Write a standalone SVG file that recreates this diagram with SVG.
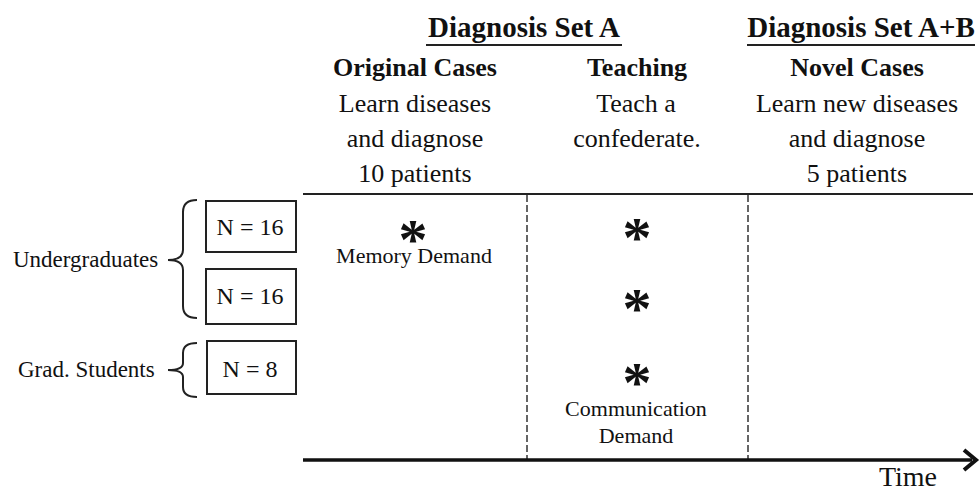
<svg xmlns="http://www.w3.org/2000/svg" width="980" height="491" viewBox="0 0 980 491">
  <style>
    text { font-family: "Liberation Serif", "Times New Roman", serif; fill: #111; }
    .h1 { font-size: 29px; font-weight: bold; text-anchor: middle; }
    .h2 { font-size: 26px; font-weight: bold; text-anchor: middle; }
    .b { font-size: 26px; text-anchor: middle; }
    .lab { font-size: 23px; }
    .n { font-size: 24px; text-anchor: middle; }
    .dem { font-size: 22px; text-anchor: middle; }
    .ast { font-size: 58px; font-weight: bold; text-anchor: middle; }
    .box { fill: #fff; stroke: #222; stroke-width: 2; }
    .ln { stroke: #222; stroke-width: 2; fill: none; }
    .dash { stroke: #333; stroke-width: 1.5; stroke-dasharray: 7 3; fill: none; }
    .brace { stroke: #222; stroke-width: 2; fill: none; }
  </style>

  <g id="header-set-a">
    <text class="h1" x="524" y="37">Diagnosis Set A</text>
    <line class="ln" x1="426" y1="45" x2="622" y2="45"/>
  </g>
  <g id="header-set-ab">
    <text class="h1" x="861" y="37">Diagnosis Set A+B</text>
    <line class="ln" x1="747" y1="45" x2="975" y2="45"/>
  </g>

  <g id="col-original">
    <text class="h2" x="415" y="76">Original Cases</text>
    <text class="b" x="415" y="112">Learn diseases</text>
    <text class="b" x="415" y="147">and diagnose</text>
    <text class="b" x="415" y="182">10 patients</text>
  </g>
  <g id="col-teaching">
    <text class="h2" x="637" y="76">Teaching</text>
    <text class="b" x="636" y="112">Teach a</text>
    <text class="b" x="637" y="147">confederate.</text>
  </g>
  <g id="col-novel">
    <text class="h2" x="857" y="76">Novel Cases</text>
    <text class="b" x="857" y="112">Learn new diseases</text>
    <text class="b" x="857" y="147">and diagnose</text>
    <text class="b" x="857" y="182">5 patients</text>
  </g>

  <g id="connectors">
    <line class="ln" x1="303" y1="194" x2="973" y2="194"/>
    <line class="dash" x1="527" y1="195" x2="527" y2="459"/>
    <line class="dash" x1="748" y1="195" x2="748" y2="459"/>
    <line x1="303" y1="460" x2="972" y2="460" stroke="#111" stroke-width="3.5"/>
    <polyline points="964,450 976,460 964,470" fill="none" stroke="#111" stroke-width="4" stroke-linejoin="miter"/>
    <path class="brace" d="M197,200 Q183,200 183,212 L183,250 Q183,260 168,260 Q183,260 183,270 L183,306 Q183,318 197,318"/>
    <path class="brace" d="M197,343 Q183,343 183,353 L183,363 Q183,370 168,370 Q183,370 183,377 L183,387 Q183,397 197,397"/>
  </g>

  <g id="label-undergrad">
    <text class="lab" x="13" y="267">Undergraduates</text>
  </g>
  <g id="label-grad">
    <text class="lab" x="18" y="377">Grad. Students</text>
  </g>

  <g id="box-n16-a">
    <rect class="box" x="206" y="201" width="90" height="51"/>
    <text class="n" x="250" y="235">N = 16</text>
  </g>
  <g id="box-n16-b">
    <rect class="box" x="206" y="269" width="90" height="55"/>
    <text class="n" x="250" y="304">N = 16</text>
  </g>
  <g id="box-n8">
    <rect class="box" x="207" y="341" width="89" height="53"/>
    <text class="n" x="250" y="377">N = 8</text>
  </g>

  <g id="memory-demand">
    <text class="ast" x="413" y="259">*</text>
    <text class="dem" x="414" y="263">Memory Demand</text>
  </g>
  <g id="teaching-ast-1">
    <text class="ast" x="637" y="257">*</text>
  </g>
  <g id="teaching-ast-2">
    <text class="ast" x="637" y="328">*</text>
  </g>
  <g id="communication-demand">
    <text class="ast" x="637" y="402">*</text>
    <text class="dem" x="636" y="416">Communication</text>
    <text class="dem" x="636" y="443">Demand</text>
  </g>

  <g id="time-label">
    <text x="908" y="486" style="font-size:28px;text-anchor:middle">Time</text>
  </g>
</svg>
